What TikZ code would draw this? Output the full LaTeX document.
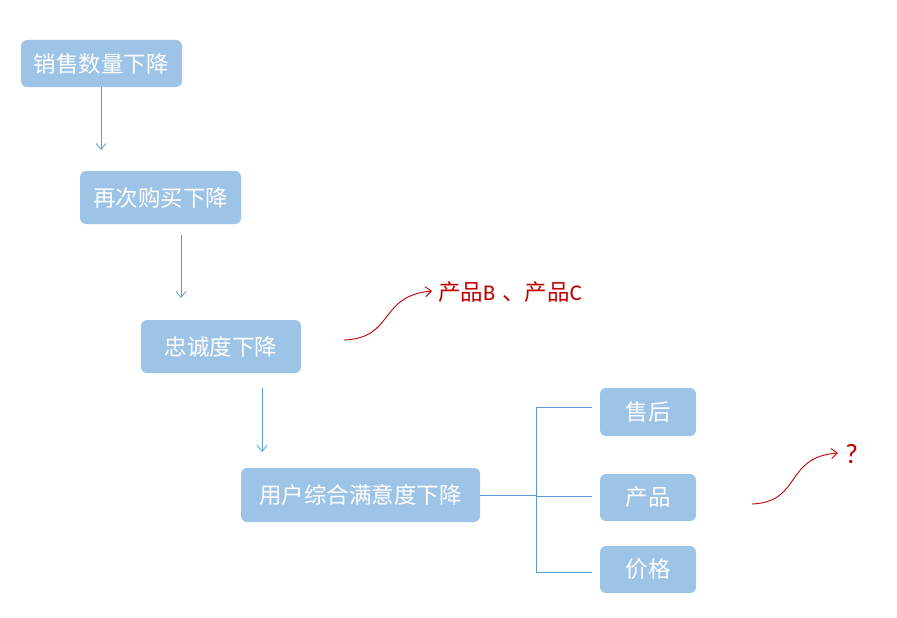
\documentclass[tikz,border=0pt]{standalone}
\usepackage{fontspec}
\setmainfont{Noto Sans CJK SC}
\newfontfamily\latinfont{Carlito}
\usetikzlibrary{arrows.meta}
\definecolor{boxblue}{HTML}{9DC3E6}
\definecolor{lineblue}{HTML}{5B9BD5}
\definecolor{darkred}{HTML}{C00000}
\begin{document}
\begin{tikzpicture}[x=1pt,y=-1pt,
  box/.style={fill=boxblue, rounded corners=6pt, inner sep=0pt, text=white, font=\fontsize{22.5}{26}\selectfont},
  flow/.style={draw=lineblue, line width=0.8pt, -{Straight Barb[length=6pt,width=10pt]}},
  bracket/.style={draw=lineblue, line width=0.9pt},
  redarrow/.style={draw=darkred, line width=0.9pt, -{Straight Barb[length=6pt,width=10pt]}},
  redtext/.style={text=darkred, font=\fontsize{22.5}{26}\selectfont, inner sep=0pt, anchor=west}]
\useasboundingbox (0,0) rectangle (897,618);
\node[box, minimum width=161pt, minimum height=47pt] (b1) at (101.5,63.5) {销售数量下降};
\node[box, minimum width=161pt, minimum height=53pt] (b2) at (160.5,197.5) {再次购买下降};
\node[box, minimum width=160pt, minimum height=53pt] (b3) at (221,346.5) {忠诚度下降};
\node[box, minimum width=239pt, minimum height=54pt] (b4) at (360.5,495) {用户综合满意度下降};
\node[box, minimum width=96pt, minimum height=48pt] (s1) at (648,412) {售后};
\node[box, minimum width=96pt, minimum height=47pt] (s2) at (648,497.5) {产品};
\node[box, minimum width=96pt, minimum height=47pt] (s3) at (648,569.5) {价格};
% arrows between main boxes
\coordinate (a1e) at (101,150);
\coordinate (a2s) at (181,235);
\coordinate (a2e) at (181,298);
\coordinate (a3s) at (262,388);
\coordinate (a3e) at (262,452);
\draw[flow] (b1.south -| a1e) -- (a1e);
\draw[flow] (a2s) -- (a2e);
\draw[flow] (a3s) -- (a3e);
% bracket
\coordinate (j) at (536,495);
\coordinate (t1) at (592,407);
\coordinate (t2) at (592,496);
\coordinate (t3) at (592,572);
\draw[bracket] (b4.east) -- (j);
\draw[bracket] (t1) -- (t1 -| j) -- (t3 -| j) -- (t3);
\draw[bracket] (j |- t2) -- (t2);
% red notes
\node[redtext] (n1) at (438,292) {产品{\latinfont B}\hspace{7pt}、产品{\latinfont C}};
\node[redtext, font=\latinfont\fontsize{28}{32}\selectfont] (n2) at (845,454) {?};
\coordinate (r1s) at (344,340);
\coordinate (r1e) at (432,291);
\coordinate (r2s) at (752,504);
\coordinate (r2e) at (838,453);
\draw[redarrow] (r1s) .. controls (395,338) and (378,296) .. (r1e);
\draw[redarrow] (r2s) .. controls (802,502) and (784,457) .. (r2e);
\end{tikzpicture}
\end{document}
